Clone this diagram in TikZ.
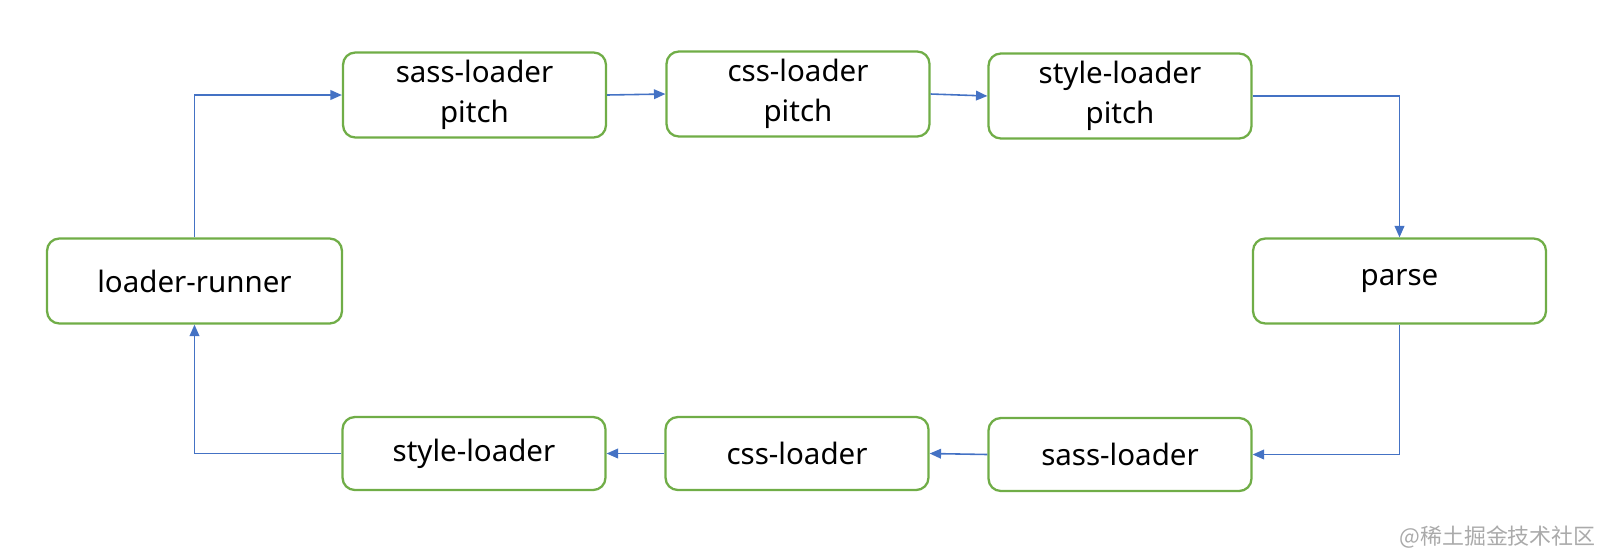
\documentclass[tikz,border=0pt]{standalone}
\usepackage{fontspec}
\setmainfont{Noto Sans}
\newfontfamily\cjk{Noto Sans CJK SC}
\usetikzlibrary{arrows.meta}
\definecolor{boxgreen}{RGB}{112, 173, 71}
\definecolor{flowblue}{RGB}{68, 114, 196}
\definecolor{markgray}{RGB}{170, 170, 170}

\begin{document}
\begin{tikzpicture}[x=0.02cm, y=-0.02cm,
    loaderbox/.style={draw=boxgreen, line width=1.3pt, rounded corners=7pt,
        minimum width=5.26cm, minimum height=1.7cm, align=center,
        font=\fontsize{16.8}{22.5}\selectfont},
    flow/.style={draw=flowblue, line width=0.9pt,
        -{Triangle[length=6.5pt, width=5.5pt]}}]
    \useasboundingbox (0,0) rectangle (1618,552);

    % Top row (pitch)
    \node[loaderbox] (sasspitch) at (474.5, 95) {sass-loader\\pitch};
    \node[loaderbox] (csspitch) at (798, 94) {css-loader\\pitch};
    \node[loaderbox] (stylepitch) at (1120, 96) {style-loader\\pitch};

    % Sides
    \node[loaderbox, minimum width=5.9cm] (runner) at (194.5, 281) {loader-runner};
    \node[loaderbox, minimum width=5.86cm] (parse) at (1399.5, 281) {parse};

    % Bottom row (normal)
    \node[loaderbox, minimum height=1.46cm] (style) at (474, 453.5) {style-loader};
    \node[loaderbox, minimum height=1.46cm] (css) at (797, 453.5) {css-loader};
    \node[loaderbox, minimum height=1.46cm] (sass) at (1120, 454.5) {sass-loader};

    % Connections
    \draw[flow] (runner.north) |- (sasspitch.west);
    \draw[flow] (sasspitch.east) -- (csspitch.west);
    \draw[flow] (csspitch.east) -- (stylepitch.west);
    \draw[flow] (stylepitch.east) -| (parse.north);
    \draw[flow] (parse.south) |- (sass.east);
    \draw[flow] (sass.west) -- (css.east);
    \draw[flow] (css.west) -- (style.east);
    \draw[flow] (style.west) -| (runner.south);

    % Watermark
    \node[anchor=east, text=markgray, font=\cjk\fontsize{12.5}{14}\selectfont] (mark) at (1602, 537) {@稀土掘金技术社区};
\end{tikzpicture}
\end{document}
